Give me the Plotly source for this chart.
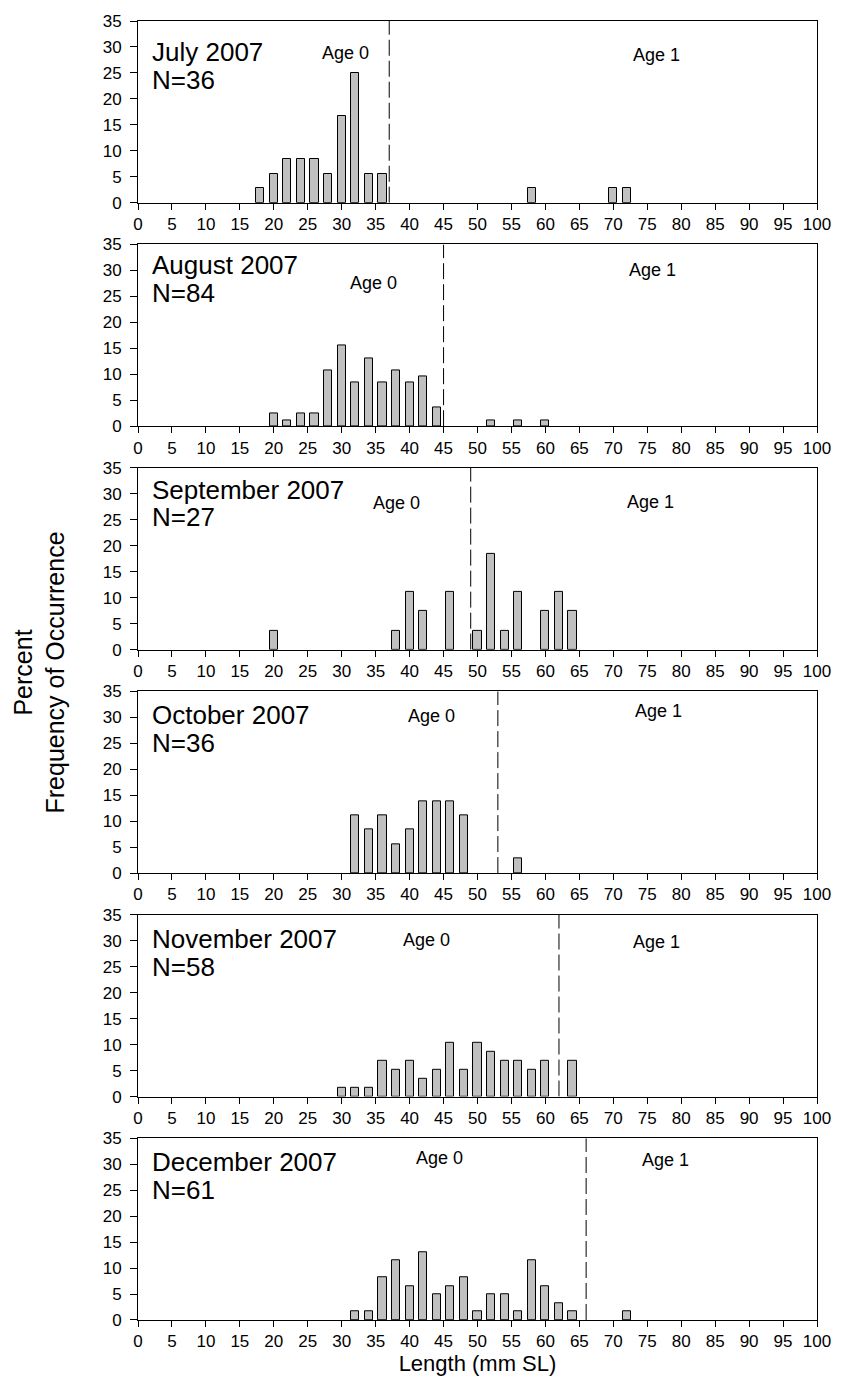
import plotly.graph_objects as go

# ---- data (length class midpoint, mm SL) and percent frequency ----
months = ["July 2007", "August 2007", "September 2007", "October 2007", "November 2007", "December 2007"]
sample_n = ["N=36", "N=84", "N=27", "N=36", "N=58", "N=61"]

jul_len = [18, 20, 22, 24, 26, 28, 30, 32, 34, 36, 58, 70, 72]
jul_pct = [2.78, 5.56, 8.33, 8.33, 8.33, 5.56, 16.67, 25.0, 5.56, 5.56, 2.78, 2.78, 2.78]

aug_len = [20, 22, 24, 26, 28, 30, 32, 34, 36, 38, 40, 42, 44, 52, 56, 60]
aug_pct = [2.38, 1.19, 2.38, 2.38, 10.71, 15.48, 8.33, 13.10, 8.33, 10.71, 8.33, 9.52, 3.57, 1.19, 1.19, 1.19]

sep_len = [20, 38, 40, 42, 46, 50, 52, 54, 56, 60, 62, 64]
sep_pct = [3.70, 3.70, 11.11, 7.41, 11.11, 3.70, 18.52, 3.70, 11.11, 7.41, 11.11, 7.41]

oct_len = [32, 34, 36, 38, 40, 42, 44, 46, 48, 56]
oct_pct = [11.11, 8.33, 11.11, 5.56, 8.33, 13.89, 13.89, 13.89, 11.11, 2.78]

nov_len = [30, 32, 34, 36, 38, 40, 42, 44, 46, 48, 50, 52, 54, 56, 58, 60, 64]
nov_pct = [1.72, 1.72, 1.72, 6.90, 5.17, 6.90, 3.45, 5.17, 10.34, 5.17, 10.34, 8.62, 6.90, 6.90, 5.17, 6.90, 6.90]

dec_len = [32, 34, 36, 38, 40, 42, 44, 46, 48, 50, 52, 54, 56, 58, 60, 62, 64, 72]
dec_pct = [1.64, 1.64, 8.20, 11.48, 6.56, 13.11, 4.92, 6.56, 8.20, 1.64, 4.92, 4.92, 1.64, 11.48, 6.56, 3.28, 1.64, 1.64]

lengths = [jul_len, aug_len, sep_len, oct_len, nov_len, dec_len]
percents = [jul_pct, aug_pct, sep_pct, oct_pct, nov_pct, dec_pct]

# age 0 / age 1 cutoff length per month
cutoffs = [37, 45, 49, 53, 62, 66]

# label positions (data units)
age0_pos = [(30.5, 28.9), (34.7, 27.6), (38.1, 28.2), (43.2, 30.3), (42.5, 30.2), (44.4, 31.2)]
age1_pos = [(76.4, 28.5), (75.8, 30.0), (75.5, 28.4), (76.7, 31.3), (76.4, 29.7), (77.7, 30.9)]
month_y = [29.0, 31.0, 30.8, 30.5, 30.3, 30.5]
n_y = [23.7, 25.7, 25.5, 25.0, 24.9, 25.1]

x_ticks = list(range(0, 101, 5))
y_ticks = list(range(0, 36, 5))

# ---- layout geometry ----
W, H = 843, 1384
m_l, m_r, m_t, m_b = 138, 19, 12, 64
plot_h = H - m_t - m_b
panel_h = 183
panel_step = 225

FONT = "Arial, Liberation Sans, Helvetica, sans-serif"
TICK_SIZE = 17

fig = go.Figure()
layout = dict(
    width=W, height=H,
    margin=dict(l=m_l, r=m_r, t=m_t, b=m_b),
    paper_bgcolor="white", plot_bgcolor="white",
    showlegend=False,
    font=dict(family=FONT, color="black"),
    bargap=0,
)
annotations = []
shapes = []

for i in range(6):
    k = "" if i == 0 else str(i + 1)
    top = panel_step * i
    bot = top + panel_h
    dom = [1 - bot / plot_h, 1 - top / plot_h]
    fig.add_trace(go.Bar(
        x=lengths[i], y=percents[i], width=1.2,
        marker=dict(color="#c0c0c0", line=dict(color="black", width=1)),
        xaxis="x" + k, yaxis="y" + k, hoverinfo="x+y",
    ))
    layout["xaxis" + k] = dict(
        domain=[0, 1], range=[0, 100], anchor="y" + k,
        tickmode="array", tickvals=x_ticks, ticktext=[str(t) for t in x_ticks],
        ticks="outside", ticklen=6, tickcolor="black", tickwidth=1,
        showline=True, linecolor="black", linewidth=1, mirror=True,
        showgrid=False, zeroline=False,
        tickfont=dict(size=TICK_SIZE, family=FONT, color="black"),
    )
    layout["yaxis" + k] = dict(
        domain=dom, range=[0, 35], anchor="x" + k,
        tickmode="array", tickvals=y_ticks, ticktext=[str(t) for t in y_ticks],
        ticks="outside", ticklen=7, tickcolor="black", tickwidth=1,
        showline=True, linecolor="black", linewidth=1, mirror=True,
        showgrid=False, zeroline=False, ticklabelstandoff=5,
        tickfont=dict(size=TICK_SIZE, family=FONT, color="black"),
    )
    shapes.append(dict(
        type="line", xref="x" + k, yref="y" + k,
        x0=cutoffs[i], x1=cutoffs[i], y0=0, y1=35,
        line=dict(color="black", width=1, dash="16px,5px"),
    ))
    annotations.append(dict(
        xref="x" + k, yref="y" + k, x=1.8, y=month_y[i], text=months[i],
        showarrow=False, xanchor="left", yanchor="middle",
        font=dict(size=26, family=FONT, color="black"),
    ))
    annotations.append(dict(
        xref="x" + k, yref="y" + k, x=1.8, y=n_y[i], text=sample_n[i],
        showarrow=False, xanchor="left", yanchor="middle",
        font=dict(size=26, family=FONT, color="black"),
    ))
    annotations.append(dict(
        xref="x" + k, yref="y" + k, x=age0_pos[i][0], y=age0_pos[i][1], text="Age 0",
        showarrow=False, xanchor="center", yanchor="middle",
        font=dict(size=18, family=FONT, color="black"),
    ))
    annotations.append(dict(
        xref="x" + k, yref="y" + k, x=age1_pos[i][0], y=age1_pos[i][1], text="Age 1",
        showarrow=False, xanchor="center", yanchor="middle",
        font=dict(size=18, family=FONT, color="black"),
    ))

layout["xaxis6"]["title"] = dict(text="Length (mm SL)", font=dict(size=22, family=FONT, color="black"), standoff=0)

# y axis title shared by all panels
annotations.append(dict(
    xref="paper", yref="paper",
    x=(38 - m_l) / (W - m_l - m_r), y=1 - (668 - m_t) / plot_h,
    text="Percent<br>Frequency of Occurrence", textangle=-90,
    showarrow=False, xanchor="center", yanchor="middle",
    font=dict(size=25, family=FONT, color="black"),
))

layout["annotations"] = annotations
layout["shapes"] = shapes
fig.update_layout(**layout)
fig.write_html("out.html")
